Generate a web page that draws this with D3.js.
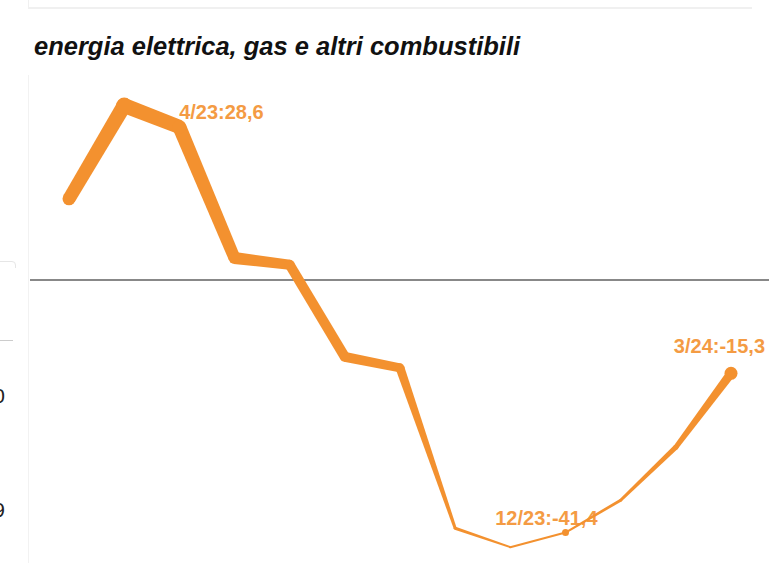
<!DOCTYPE html>
<html>
<head>
<meta charset="utf-8">
<script src="https://cdn.jsdelivr.net/npm/d3@7"></script>
<style>
    body { margin: 0; background: #fff; }
    svg { display: block; font-family: "Liberation Sans", Arial, sans-serif; }
</style>
</head>
<body>
<div id="chart"></div>
<script>
// months shown on the x axis (no tick labels drawn in the reference)
var months = ['3/23', '4/23', '5/23', '6/23', '7/23', '8/23', '9/23',
              '10/23', '11/23', '12/23', '1/24', '2/24', '3/24'];
// values of the series
var values = [13.3, 28.6, 25.1, 3.6, 2.5, -12.6, -14.4, -40.7, -43.8, -41.4, -36.1, -27.4, -15.3];
// line thickness at each point (second encoding of the chart)
var weights = [13, 15, 14, 12, 10, 10, 9, 3, 2, 2, 3, 5, 9];
// points with a marker and a value label
var labelled = ['4/23', '12/23', '3/24'];

var width = 769, height = 563;
var color = '#f3912f';

var svg = d3.select('#chart').append('svg')
        .attr('width', width)
        .attr('height', height);

// card above (cropped)
svg.append('rect')
        .attr('x', 28).attr('y', 7).attr('width', 724).attr('height', 2)
        .attr('fill', '#f0f0f0');
svg.append('line')
        .attr('x1', 28.5).attr('x2', 28.5).attr('y1', -5).attr('y2', 7)
        .attr('stroke', '#f0f0f0');
svg.append('line')
        .attr('x1', 28.5).attr('x2', 28.5).attr('y1', 75).attr('y2', height)
        .attr('stroke', '#f2f2f2');

// neighbour chart on the left (cropped)
svg.append('path')
        .attr('d', 'M0,261.5 L12,261.5 Q15.5,261.5 15.5,265 L15.5,268')
        .attr('fill', 'none').attr('stroke', '#e6e6e6');
svg.append('line')
        .attr('x1', 0).attr('x2', 13).attr('y1', 340.5).attr('y2', 340.5)
        .attr('stroke', '#cccccc');
svg.append('text').attr('x', 5).attr('y', 403).attr('text-anchor', 'end')
        .style('font-size', '21px').attr('fill', '#222').text('0');
svg.append('text').attr('x', 5).attr('y', 517).attr('text-anchor', 'end')
        .style('font-size', '21px').attr('fill', '#222').text('9');

// title
svg.append('text')
        .attr('x', 34).attr('y', 55)
        .style('font-size', '25.5px')
        .style('font-weight', 'bold')
        .style('font-style', 'italic')
        .attr('fill', '#111')
        .text('energia elettrica, gas e altri combustibili');

var x = d3.scalePoint().domain(months).range([69, 731]);
var y = d3.scaleLinear().domain([-45, 30]).range([554.5, 97]);

// zero line
svg.append('line')
        .attr('x1', 30).attr('x2', width)
        .attr('y1', y(0)).attr('y2', y(0))
        .attr('stroke', '#888').attr('stroke-width', 2);

var pts = months.map(function(m, i) {
    return {m: m, v: values[i], w: weights[i], x: x(m), y: y(values[i])};
});

// value labels
var offsets = {
    '4/23': {dx: 55, dy: 13, anchor: 'start'},
    '12/23': {dx: 32, dy: -8, anchor: 'end'},
    '3/24': {dx: 34, dy: -20, anchor: 'end'}
};
svg.selectAll('text.label').data(pts.filter(function(d) { return labelled.indexOf(d.m) >= 0; }))
        .enter().append('text')
        .attr('class', 'label')
        .attr('x', function(d) { return d.x + offsets[d.m].dx; })
        .attr('y', function(d) { return d.y + offsets[d.m].dy; })
        .attr('text-anchor', function(d) { return offsets[d.m].anchor; })
        .style('font-size', '20px')
        .style('font-weight', 'bold')
        .attr('fill', color)
        .attr('opacity', 0.9)
        .text(function(d) { return d.m + ':' + String(d.v).replace('.', ','); });

// variable width line: one trapezoid per segment plus round joints
var line = svg.append('g').attr('fill', color);
d3.pairs(pts).forEach(function(p) {
    var a = p[0], b = p[1];
    var dx = b.x - a.x, dy = b.y - a.y, len = Math.sqrt(dx * dx + dy * dy);
    var nx = -dy / len, ny = dx / len;
    var poly = [
        [a.x + nx * a.w / 2, a.y + ny * a.w / 2],
        [b.x + nx * b.w / 2, b.y + ny * b.w / 2],
        [b.x - nx * b.w / 2, b.y - ny * b.w / 2],
        [a.x - nx * a.w / 2, a.y - ny * a.w / 2]
    ];
    line.append('path').attr('d', 'M' + poly.join('L') + 'Z');
});
line.selectAll('circle.joint').data(pts)
        .enter().append('circle')
        .attr('class', 'joint')
        .attr('cx', function(d) { return d.x; })
        .attr('cy', function(d) { return d.y; })
        .attr('r', function(d) { return d.w / 2; });

// markers
var markerSize = {'4/23': 8, '12/23': 3.5, '3/24': 6.5};
svg.selectAll('circle.marker').data(pts.filter(function(d) { return labelled.indexOf(d.m) >= 0; }))
        .enter().append('circle')
        .attr('class', 'marker')
        .attr('cx', function(d) { return d.x; })
        .attr('cy', function(d) { return d.y; })
        .attr('r', function(d) { return markerSize[d.m]; })
        .attr('fill', color);
</script>
</body>
</html>
